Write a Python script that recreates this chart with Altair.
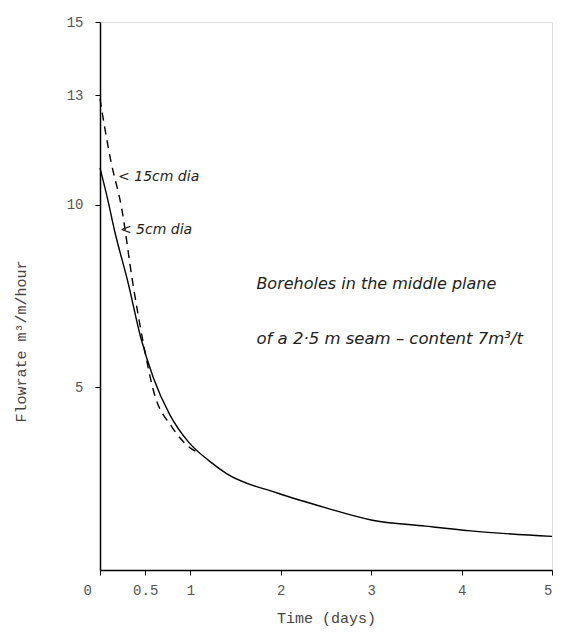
import altair as alt
import pandas as pd

# 5 cm diameter borehole (solid)
t_5cm = [0, 0.08, 0.16, 0.31, 0.45, 0.59, 0.77, 0.98, 1.2, 1.4, 1.97, 2.5, 3.0, 3.6, 4.1, 5.0]
q_5cm = [11.0, 10.2, 9.3, 7.87, 6.37, 5.26, 4.26, 3.5, 3.0, 2.64, 2.1, 1.7, 1.37, 1.2, 1.07, 0.92]

# 15 cm diameter borehole (dashed)
t_15cm = [0, 0.06, 0.12, 0.24, 0.36, 0.48, 0.59, 0.8, 1.0, 1.1]
q_15cm = [12.9, 12.0, 11.2, 9.9, 7.9, 6.2, 4.92, 3.9, 3.34, 3.2]

x_ticks = [0, 0.5, 1, 2, 3, 4, 5]
y_ticks = [5, 10, 13, 15]

note_text = ["< 15cm dia", "< 5cm dia",
             "Boreholes in the middle plane",
             "of a 2·5 m seam – content 7m³/t"]
note_t = [0.2, 0.22, 1.73, 1.73]
note_q = [10.77, 9.3, 7.83, 6.32]

df5 = pd.DataFrame({"t": t_5cm, "q": q_5cm})
df15 = pd.DataFrame({"t": t_15cm, "q": q_15cm})
notes = pd.DataFrame({"t": note_t, "q": note_q, "txt": note_text,
                      "size": [14, 14, 16, 16.5]})

mono = "Liberation Mono"
xs = alt.Scale(domain=[0, 5], nice=False, zero=False)
ys = alt.Scale(domain=[0, 15], nice=False)

x_axis = alt.Axis(values=x_ticks, title="Time (days)", grid=False, format="~g",
                  domainColor="black", domainWidth=1.5, tickColor="black",
                  tickSize=5, labelFont=mono, labelFontSize=14, labelColor="#555",
                  labelPadding=8, titleFont=mono, titleFontSize=15,
                  titleFontWeight="normal", titleColor="#444", titlePadding=13,
                  labelOffset={"condition": {"test": "datum.value == 0", "value": -17},
                               "value": 0})
y_axis = alt.Axis(values=y_ticks, title="Flowrate m³/m/hour", grid=False,
                  domainColor="black", domainWidth=1.5, tickColor="black",
                  tickSize=5, labelFont=mono, labelFontSize=14, labelColor="#555",
                  labelPadding=12, titleFont=mono, titleFontSize=15,
                  titleFontWeight="normal", titleColor="#444",
                  titleX=-72, titleY=319)

solid = alt.Chart(df5).mark_line(color="black", strokeWidth=1.4,
                                 interpolate="monotone").encode(
    x=alt.X("t:Q", scale=xs, axis=x_axis),
    y=alt.Y("q:Q", scale=ys, axis=y_axis),
)
dashed = alt.Chart(df15).mark_line(color="black", strokeWidth=1.4,
                                   strokeDash=[8, 6],
                                   interpolate="monotone").encode(
    x=alt.X("t:Q", scale=xs),
    y=alt.Y("q:Q", scale=ys),
)
text = alt.Chart(notes).mark_text(align="left", baseline="middle",
                                  font="DejaVu Sans", fontStyle="italic",
                                  color="#222").encode(
    x=alt.X("t:Q", scale=xs),
    y=alt.Y("q:Q", scale=ys),
    text="txt:N",
    size=alt.Size("size:Q", scale=None, legend=None),
)

chart = (solid + dashed + text).properties(
    width=452, height=548,
    autosize=alt.AutoSizeParams(type="none"),
    padding={"left": 92, "top": 14, "right": 4, "bottom": 58},
).configure_view(stroke=None).configure(background="white")

chart.save("out.html", embed_options={"renderer": "svg", "actions": False})
